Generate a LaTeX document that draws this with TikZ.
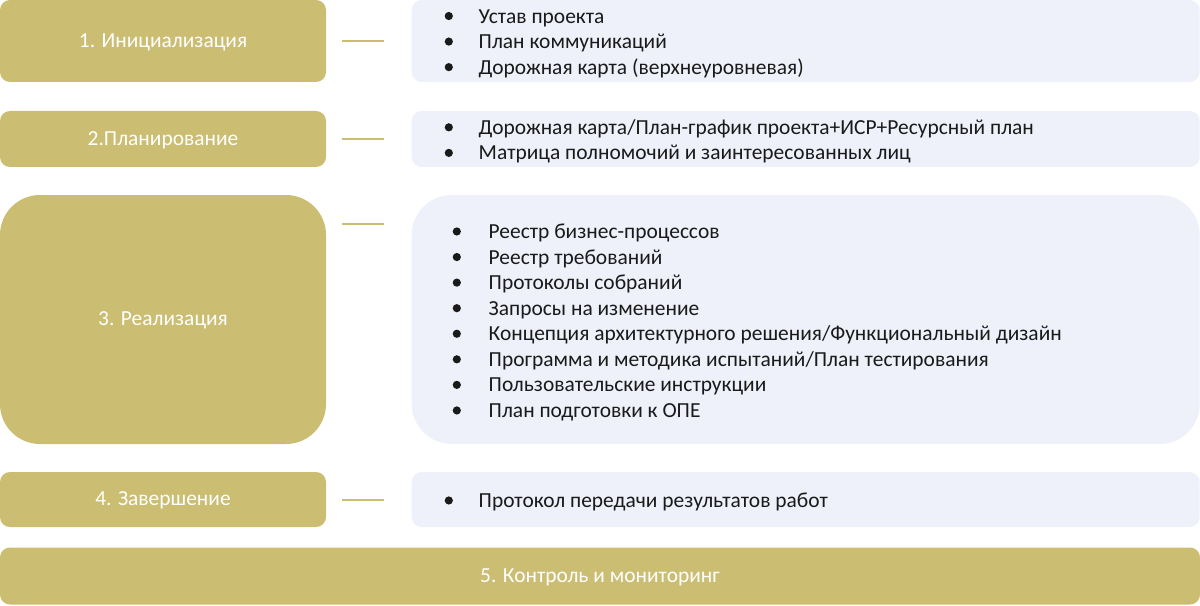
\documentclass[tikz,border=0pt]{standalone}
\usepackage{fontspec}
\setmainfont{Carlito}
\usetikzlibrary{positioning}
\definecolor{phasegold}{HTML}{CBBD72}
\definecolor{docsbg}{HTML}{EEF1F9}
\definecolor{doctext}{HTML}{1A1A1A}
\newcommand{\bulletmark}{\tikz[baseline=-0.33em]\fill[doctext] (0,0) circle (0.082cm);}
\newcommand{\docitem}[1]{\makebox[0.7cm][l]{\hspace{0.02cm}\bulletmark}#1}
\newcommand{\docitemwide}[1]{\makebox[0.74cm][l]{\hspace{0.02cm}\bulletmark}#1}
\tikzset{
	boxbase/.style = {rectangle, inner sep=0pt, font=\fontsize{12.2}{14.55}\selectfont},
	phase/.style = {boxbase, minimum width=6.52cm, fill=phasegold, text=white, rounded corners=0.2cm, text height=0.8em, text depth=0.08em},
	docs/.style = {boxbase, minimum width=15.76cm, fill=docsbg, rounded corners=0.2cm},
	doclist/.style = {boxbase, align=left, text=doctext, anchor=west},
	link/.style = {draw=phasegold, line width=0.04cm, shorten <=0.32cm, shorten >=0.54cm}
}

\begin{document}
\begin{tikzpicture}[node distance=1.7cm]
		\useasboundingbox (0,0) rectangle (24,-12.1);
		%фазы проекта
		\node (init) [phase, minimum height=1.64cm] at (3.26,-0.82) {1. Инициализация};
		\node (plan) [phase, minimum height=1.12cm] at (3.26,-2.78) {2.Планирование};
		\node (real) [phase, minimum height=4.98cm, rounded corners=0.8cm] at (3.26,-6.39) {3. Реализация};
		\node (close) [phase, minimum height=1.1cm] at (3.26,-9.99) {4. Завершение};
		\node (control) [phase, minimum width=24cm, minimum height=1.14cm] at (12,-11.52) {5. Контроль и мониторинг};

		%документы по фазам
		\node (initdocs) [docs, right=of init, minimum height=1.64cm] {};
		\node (plandocs) [docs, right=of plan, minimum height=1.12cm] {};
		\node (realdocs) [docs, right=of real, minimum height=4.98cm, rounded corners=0.8cm] {};
		\node (closedocs) [docs, right=of close, minimum height=1.1cm] {};

		\node (initlist) [doclist] at ([xshift=0.64cm,yshift=-0.05cm]initdocs.west) {\docitem{Устав проекта}\\
			\docitem{План коммуникаций}\\
			\docitem{Дорожная карта (верхнеуровневая)}};
		\node (planlist) [doclist] at ([xshift=0.64cm,yshift=-0.05cm]plandocs.west) {\docitem{Дорожная карта/План-график проекта+ИСР+Ресурсный план}\\
			\docitem{Матрица полномочий и заинтересованных лиц}};
		\node (reallist) [doclist] at ([xshift=0.8cm,yshift=-0.06cm]realdocs.west) {\docitemwide{Реестр бизнес-процессов}\\
			\docitemwide{Реестр требований}\\
			\docitemwide{Протоколы собраний}\\
			\docitemwide{Запросы на изменение}\\
			\docitemwide{Концепция архитектурного решения/Функциональный дизайн}\\
			\docitemwide{Программа и методика испытаний/План тестирования}\\
			\docitemwide{Пользовательские инструкции}\\
			\docitemwide{План подготовки к ОПЕ}};
		\node (closelist) [doclist] at ([xshift=0.64cm,yshift=-0.05cm]closedocs.west) {\docitem{Протокол передачи результатов работ}};

		%связи
		\path [link] (init) -- (initdocs);
		\path [link] (plan) -- (plandocs);
		\path [link] ([yshift=-0.58cm]real.north east) -- ([yshift=-0.58cm]realdocs.north west);
		\path [link] (close) -- (closedocs);
\end{tikzpicture}
\end{document}
